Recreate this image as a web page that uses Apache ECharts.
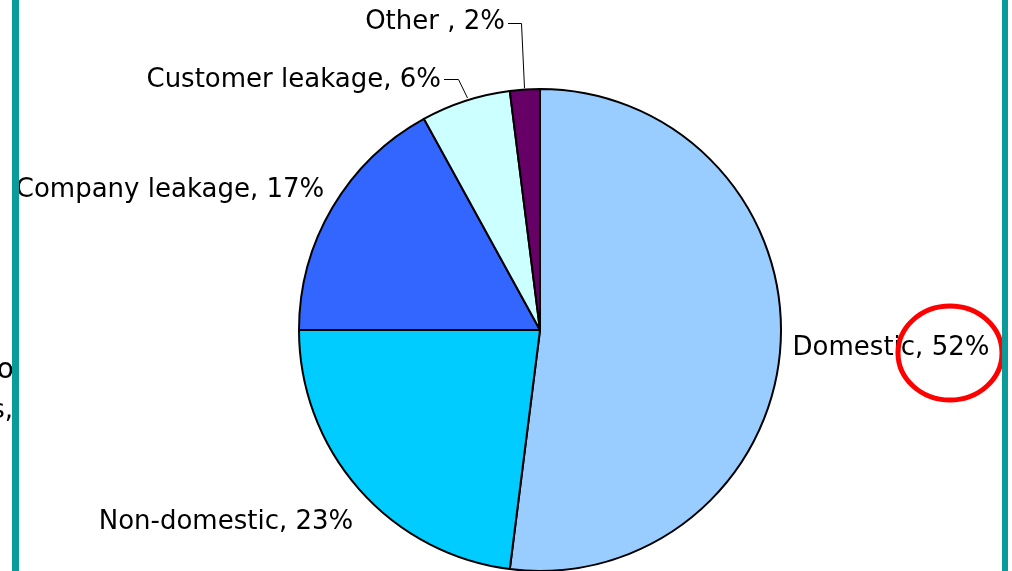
<!DOCTYPE html>
<html>
<head>
<meta charset="utf-8">
<script src="https://cdn.jsdelivr.net/npm/echarts@6/dist/echarts.min.js"></script>
<style>
  html, body { margin: 0; padding: 0; background: #ffffff; }
  #chart { width: 1012px; height: 571px; }
</style>
</head>
<body>
<div id="chart"></div>
<script>
// Share of water use by component (percent)
const categories = ['Domestic', 'Non-domestic', 'Company leakage', 'Customer leakage', 'Other '];
const shares = [52, 23, 17, 6, 2];
const sliceColors = ['#99ccff', '#00ccff', '#3366ff', '#ccffff', '#660066'];

// Where each label sits: [x, y, align]
const labelSpots = [
  [891, 348, 'center'],
  [226, 522, 'center'],
  [170, 190, 'center'],
  [441, 80, 'right'],
  [505, 22, 'right']
];
// Leader lines for the two thin slices (from slice edge to label end)
const leaderPaths = {
  3: [[467.5, 98], [458.5, 79.5], [444, 79.5]],
  4: [[524.5, 88], [521.5, 23.5], [508, 23.5]]
};

const chart = echarts.init(document.getElementById('chart'));

const data = categories.map((name, i) => ({
  name: name,
  value: shares[i],
  itemStyle: { color: sliceColors[i] },
  labelLine: { show: !!leaderPaths[i] }
}));

chart.setOption({
  animation: false,
  series: [{
    type: 'pie',
    center: [540, 330],
    radius: 241,
    startAngle: 90,
    clockwise: true,
    avoidLabelOverlap: false,
    itemStyle: { borderColor: '#000000', borderWidth: 2 },
    emphasis: { disabled: true },
    label: {
      show: true,
      position: 'outside',
      color: '#000000',
      fontFamily: 'DejaVu Sans',
      fontSize: 26,
      formatter: p => p.name + ', ' + p.value + '%'
    },
    labelLine: {
      lineStyle: { color: '#000000', width: 1 },
      length: 10,
      length2: 10
    },
    labelLayout: function (params) {
      const s = labelSpots[params.dataIndex];
      const out = { x: s[0], y: s[1], align: s[2], verticalAlign: 'middle' };
      if (leaderPaths[params.dataIndex]) out.labelLinePoints = leaderPaths[params.dataIndex];
      return out;
    },
    data: data
  }],
  graphic: [
    // fragments of neighbouring text cut off by the frame
    { type: 'text', z: 90, style: { text: 'o', x: 14, y: 371, align: 'right', verticalAlign: 'middle', font: '28px "DejaVu Sans"', fill: '#000' } },
    { type: 'text', z: 90, style: { text: 's,', x: 13, y: 411, align: 'right', verticalAlign: 'middle', font: '26px "DejaVu Sans"', fill: '#000' } },
    // highlight ring around the domestic share
    { type: 'ellipse', z: 95, shape: { cx: 950, cy: 353, rx: 52, ry: 47 }, style: { fill: 'none', stroke: '#ff0000', lineWidth: 5 } },
    // frame edges
    { type: 'rect', z: 100, shape: { x: 12, y: 0, width: 7, height: 571 }, style: { fill: '#0a9b9b' } },
    { type: 'rect', z: 100, shape: { x: 1002, y: 0, width: 6, height: 571 }, style: { fill: '#0a9b9b' } }
  ]
});
</script>
</body>
</html>
